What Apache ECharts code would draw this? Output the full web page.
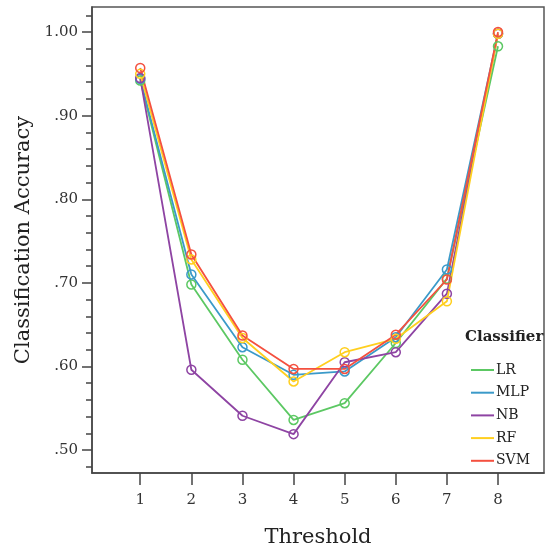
<!DOCTYPE html>
<html>
<head>
<meta charset="utf-8">
<script src="https://cdn.jsdelivr.net/npm/echarts@6/dist/echarts.min.js"></script>
<style>
  html, body { margin: 0; padding: 0; background: #fff; }
  #chart { width: 545px; height: 549px; }
</style>
</head>
<body>
<div id="chart"></div>
<script>
// thresholds on the x axis
const thresholds = [1, 2, 3, 4, 5, 6, 7, 8];
const classifiers = ['LR', 'MLP', 'NB', 'RF', 'SVM'];
const colors = ['#5cc863', '#3b9ac9', '#8e44a3', '#ffcf1f', '#f4503f'];

// accuracy per classifier
const lrAcc  = [0.942, 0.698, 0.608, 0.536, 0.556, 0.628, 0.705, 0.983];
const mlpAcc = [0.944, 0.710, 0.623, 0.590, 0.594, 0.635, 0.716, 0.998];
const nbAcc  = [0.945, 0.596, 0.541, 0.519, 0.605, 0.617, 0.687, 0.998];
const rfAcc  = [0.950, 0.728, 0.634, 0.582, 0.617, 0.633, 0.678, 0.998];
const svmAcc = [0.957, 0.734, 0.637, 0.597, 0.597, 0.638, 0.704, 1.000];

const yMajor = [0.5, 0.6, 0.7, 0.8, 0.9, 1.0];
const yMinor = [0.48, 0.52, 0.54, 0.56, 0.58, 0.62, 0.64, 0.66, 0.68, 0.72, 0.74, 0.76, 0.78,
                0.82, 0.84, 0.86, 0.88, 0.92, 0.94, 0.96, 0.98, 1.02];

const allAcc = [lrAcc, mlpAcc, nbAcc, rfAcc, svmAcc];
const serif = 'DejaVu Serif';

const chart = echarts.init(document.getElementById('chart'));

const yBase = {
  type: 'value',
  min: 0.4725,
  max: 1.030,
  position: 'left',
  splitLine: { show: false }
};

chart.setOption({
  animation: false,
  textStyle: { fontFamily: serif },
  title: {
    text: 'Classifier',
    left: 460,
    top: 325,
    textStyle: { fontFamily: serif, fontSize: 15, fontWeight: 'bold', color: '#222' }
  },
  legend: {
    orient: 'vertical',
    left: 466,
    top: 357,
    icon: 'rect',
    itemWidth: 23,
    itemHeight: 2,
    itemGap: 6.7,
    itemStyle: { borderWidth: 0 },
    textStyle: { fontFamily: serif, fontSize: 14, lineHeight: 16, color: '#222', padding: [0, 0, 0, -3] },
    data: classifiers.map((name, i) => ({ name: name, itemStyle: { color: colors[i], borderWidth: 0 } }))
  },
  grid: {
    left: 92,
    right: 1,
    top: 7,
    bottom: 76,
    outerBoundsMode: 'none',
    show: true,
    borderColor: '#555',
    borderWidth: 1.5
  },
  xAxis: {
    type: 'value',
    min: 0.056,
    max: 8.9,
    name: 'Threshold',
    nameLocation: 'middle',
    nameGap: 54,
    nameTextStyle: { fontFamily: serif, fontSize: 21, color: '#222' },
    axisLine: { show: true, lineStyle: { color: '#444', width: 1.5 } },
    axisTick: { show: true, customValues: thresholds, length: 12, lineStyle: { color: '#444', width: 1.5 } },
    axisLabel: {
      customValues: thresholds,
      margin: 20,
      fontFamily: serif,
      fontSize: 15,
      color: '#333',
      formatter: v => String(v)
    },
    splitLine: { show: false }
  },
  yAxis: [
    Object.assign({}, yBase, {
      name: 'Classification Accuracy',
      nameLocation: 'middle',
      nameGap: 58,
      nameTextStyle: { fontFamily: serif, fontSize: 21, color: '#222' },
      axisLine: { show: true, lineStyle: { color: '#444', width: 1.5 } },
      axisTick: { show: true, customValues: yMajor, length: 10, lineStyle: { color: '#444', width: 1.5 } },
      axisLabel: {
        customValues: yMajor,
        margin: 14,
        fontFamily: serif,
        fontSize: 15,
        color: '#333',
        formatter: v => (v >= 1 ? '1.00' : '.' + Math.round(v * 100))
      }
    }),
    Object.assign({}, yBase, {
      axisLine: { show: false },
      axisTick: { show: true, customValues: yMinor, length: 6, lineStyle: { color: '#444', width: 1.5 } },
      axisLabel: { show: false }
    })
  ],
  series: classifiers.map((name, i) => ({
    name: name,
    type: 'line',
    data: thresholds.map((t, j) => [t, allAcc[i][j]]),
    color: colors[i],
    symbol: 'circle',
    symbolSize: 9,
    lineStyle: { width: 1.8, color: colors[i] },
    itemStyle: { color: 'rgba(255,255,255,0)', borderColor: colors[i], borderWidth: 1.5 }
  }))
});
</script>
</body>
</html>
